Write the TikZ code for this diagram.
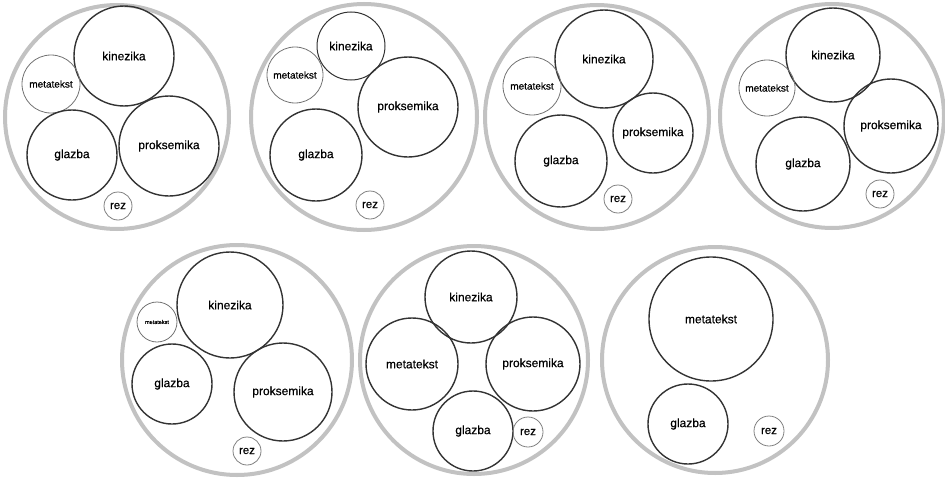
\documentclass[tikz,border=0pt]{standalone}
\usepackage{fontspec}
\setmainfont{Liberation Sans}
\newfontfamily\lblfont{Liberation Sans}[FakeBold=0.5]
\usetikzlibrary{positioning}

\begin{document}
\begin{tikzpicture}[
    x=1pt, y=-1pt,
    group/.style={circle, draw=black!24, line width=4pt, inner sep=0pt},
    part/.style={circle, draw=black!80, line width=1.4pt, inner sep=0pt, font=\lblfont\fontsize{12}{14}\selectfont},
    minor/.style={circle, draw=black!55, line width=0.8pt, inner sep=0pt, font=\lblfont\fontsize{10}{12}\selectfont},
    cut/.style={circle, draw=black!50, line width=0.8pt, inner sep=0pt, minimum size=28pt, font=\lblfont\fontsize{11.5}{13}\selectfont}
]
\useasboundingbox (0,0) rectangle (945,479);

% Top row
\node[group, minimum size=224pt] (grp1) at (117,117) {};
\node[part, minimum size=100pt] (kin1) at (124,56) {kinezika};
\node[minor, minimum size=58pt] (met1) at (51,84) {metatekst};
\node[part, minimum size=90pt] (gla1) at (72,155) {glazba};
\node[part, minimum size=100pt] (pro1) at (169,146) {proksemika};
\node[cut] (rez1) at (118,206) {rez};

\node[group, minimum size=226pt] (grp2) at (364,117) {};
\node[part, minimum size=68pt, line width=1pt] (kin2) at (351,46) {kinezika};
\node[minor, minimum size=56pt] (met2) at (295,75) {metatekst};
\node[part, minimum size=100pt] (pro2) at (408,107) {proksemika};
\node[part, minimum size=92pt] (gla2) at (316,155) {glazba};
\node[cut] (rez2) at (370,205) {rez};

\node[group, minimum size=224pt] (grp3) at (597,117) {};
\node[part, minimum size=98pt] (kin3) at (604,59) {kinezika};
\node[minor, minimum size=58pt] (met3) at (532,86) {metatekst};
\node[part, minimum size=80pt] (pro3) at (653,133) {proksemika};
\node[part, minimum size=92pt] (gla3) at (561,161) {glazba};
\node[cut] (rez3) at (618,199) {rez};

\node[group, minimum size=224pt] (grp4) at (832,116) {};
\node[part, minimum size=94pt] (kin4) at (833,55) {kinezika};
\node[minor, minimum size=56pt] (met4) at (767,88) {metatekst};
\node[part, minimum size=94pt] (pro4) at (891,126) {proksemika};
\node[part, minimum size=94pt] (gla4) at (803,164) {glazba};
\node[cut] (rez4) at (880,194) {rez};

% Bottom row
\node[group, minimum size=230pt] (grp5) at (237,360) {};
\node[part, minimum size=106pt] (kin5) at (230,305) {kinezika};
\node[minor, minimum size=40pt, font=\lblfont\fontsize{5.5}{6}\selectfont] (met5) at (157,322) {metatekst};
\node[part, minimum size=80pt] (gla5) at (172,384) {glazba};
\node[part, minimum size=98pt] (pro5) at (283,392) {proksemika};
\node[cut] (rez5) at (247,451) {rez};

\node[group, minimum size=228pt] (grp6) at (474,360) {};
\node[part, minimum size=92pt] (kin6) at (471,297) {kinezika};
\node[part, minimum size=92pt] (met6) at (412,364) {metatekst};
\node[part, minimum size=94pt] (pro6) at (533,364) {proksemika};
\node[part, minimum size=80pt] (gla6) at (473,431) {glazba};
\node[cut, minimum size=30pt] (rez6) at (528,432) {rez};

\node[group, minimum size=226pt] (grp7) at (715,360) {};
\node[part, minimum size=124pt] (met7) at (711,319) {metatekst};
\node[part, minimum size=80pt] (gla7) at (688,424) {glazba};
\node[cut, minimum size=30pt] (rez7) at (769,431) {rez};

\end{tikzpicture}
\end{document}
